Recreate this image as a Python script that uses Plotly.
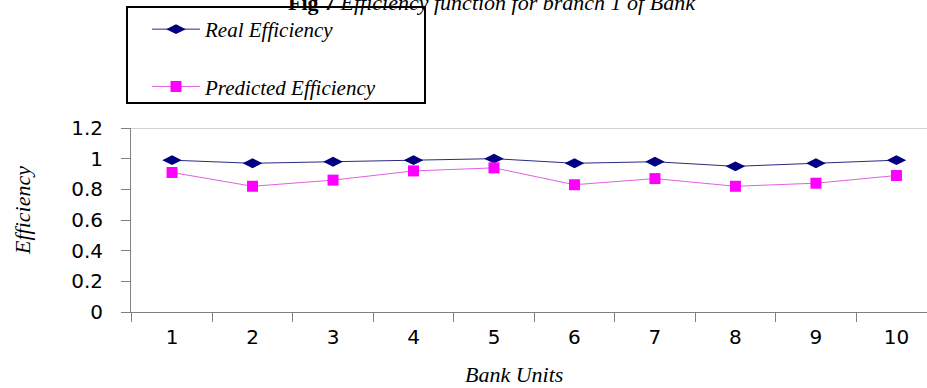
import plotly.graph_objects as go

units = ["1", "2", "3", "4", "5", "6", "7", "8", "9", "10"]
real_eff = [0.99, 0.97, 0.98, 0.99, 1.00, 0.97, 0.98, 0.95, 0.97, 0.99]
pred_eff = [0.91, 0.82, 0.86, 0.92, 0.94, 0.83, 0.87, 0.82, 0.84, 0.89]

W, H = 927, 388
ML, MR, MT, MB = 131, 0, 128, 76
PW, PH = W - ML - MR, H - MT - MB

def px(x):
    return (x - ML) / PW

def py(y):
    return (H - MB - y) / PH

serif = "Liberation Serif, Times New Roman, serif"
sans = "DejaVu Sans, Arial, sans-serif"

fig = go.Figure()
fig.add_trace(go.Scatter(
    x=units, y=real_eff, mode="lines+markers", name="Real Efficiency",
    line=dict(color="#2a2a80", width=1),
    marker=dict(symbol="diamond-wide", size=14, color="#000080"),
    legendgroup="a",
))
fig.add_trace(go.Scatter(
    x=units, y=pred_eff, mode="lines+markers", name="Predicted Efficiency",
    line=dict(color="#e060e0", width=1),
    marker=dict(symbol="square", size=11, color="#FF00FF"),
    legendgroup="b",
))

fig.update_layout(
    width=W, height=H,
    margin=dict(l=ML, r=MR, t=MT, b=MB, pad=0),
    paper_bgcolor="white", plot_bgcolor="white",
    showlegend=True,
    legend=dict(
        x=px(147), y=py(9), xanchor="left", yanchor="top",
        font=dict(family=serif, size=21, color="black", style="italic"),
        bgcolor="rgba(0,0,0,0)", borderwidth=0,
        itemwidth=48, tracegroupgap=27,
    ),
    xaxis=dict(
        type="category", range=[-0.51, 9.38],
        showline=True, linecolor="#808080", linewidth=1,
        ticks="outside", tickson="boundaries", ticklen=9, tickcolor="#808080",
        tickfont=dict(family=sans, size=20, color="black"),
        ticklabelstandoff=7,
        showgrid=False, zeroline=False,
    ),
    yaxis=dict(
        range=[0, 1.2], dtick=0.2, tick0=0,
        showline=True, linecolor="#808080", linewidth=1,
        ticks="outside", ticklen=9, tickcolor="#808080",
        tickfont=dict(family=sans, size=20, color="black"),
        ticklabelstandoff=14,
        showgrid=False, zeroline=False,
    ),
    shapes=[
        dict(type="line", xref="paper", yref="y", x0=0, x1=1, y0=1.2, y1=1.2,
             line=dict(color="#a8a8a8", width=1)),
        dict(type="rect", xref="paper", yref="paper",
             x0=px(127), x1=px(425), y0=py(103), y1=py(7),
             line=dict(color="black", width=2), fillcolor="rgba(0,0,0,0)"),
    ],
    annotations=[
        dict(text="<b>Fig 7</b> <i>Efficiency function for branch 1 of Bank</i>",
             xref="paper", yref="paper", x=px(492), y=py(2),
             xanchor="center", yanchor="middle", showarrow=False,
             font=dict(family=serif, size=22, color="black")),
        dict(text="<i>Efficiency</i>", xref="paper", yref="paper",
             x=px(22), y=py(210), xanchor="center", yanchor="middle",
             textangle=-90, showarrow=False,
             font=dict(family=serif, size=22, color="black")),
        dict(text="<i>Bank Units</i>", xref="paper", yref="paper",
             x=px(514), y=py(374), xanchor="center", yanchor="middle",
             showarrow=False,
             font=dict(family=serif, size=22, color="black")),
    ],
)

fig.write_html("out.html", config={"displayModeBar": False},
               post_script="document.body.style.margin='0';document.body.style.padding='0';")
